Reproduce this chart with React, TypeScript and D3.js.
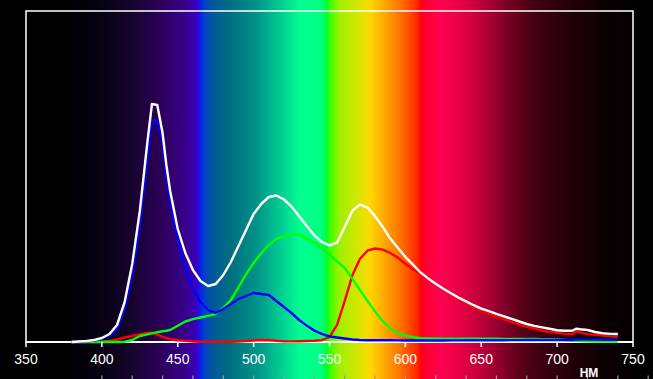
import React from "react";
import * as d3 from "d3";

const wavelengths = [380,385,390,395,400,405,410,415,420,425,430,433,436.5,440,442.5,445,450,455,460,465,470,475,480,485,490,495,500,505,510,515,520,525,530,535,540,545,550,555,560,565,570,575,580,585,590,595,600,605,610,615,620,625,630,635,640,645,650,655,660,665,670,675,680,685,690,695,700,705,710,712.5,715,720,725,730,735,740];

const whiteValues = [0,0.5,1,2,4,8,17,40,78,131,200,238,237,209,177,151,113,89,72,61,56,58,67,80,96,112,128,138,145,146.5,142.5,135.4,125.8,116,106.6,100,96.6,99.4,115,131,137.7,134.4,125.9,115.3,103.4,94.3,85.2,77.4,69.5,63.6,58.3,53.3,48.8,44.4,40.6,36.8,33.3,30.8,28.2,25.6,23.1,20.5,18,16.1,14.6,13.2,11.8,11.2,11.2,13.3,12.7,12,10,8.8,8.1,8];

const blueValues = [0,0.3,0.7,1.5,3,6,13,33,67,116,183,222,221,200,165,142,104,73,53,40,32,29,33,38,43,46,49,48,47,41,35,29,22,16.4,11.4,8.1,5.5,4.5,3.5,2.5,2,1.8,1.8,1.8,1.7,1.6,1.5,1.5,1.5,1.5,1.5,1.5,1.6,1.6,1.7,1.7,1.8,1.8,1.8,1.8,1.9,1.9,2,2,2,2,2,2,2,2.6,2.5,2.4,2.6,2.3,2.2,2.2];

const greenValues = [0,0,0,0,0,0,0,0.3,2,6,7.6,8.6,9.8,10.7,11.3,12,16.3,20.5,22.8,24.5,26.1,27.8,34.1,41.8,54.5,67.7,79,88.7,97,103.1,105.8,107.9,107.3,103.6,99.5,93.4,87.4,80.7,74,63.4,52.3,41,30.6,21.1,13.5,9,6.7,4.8,3.8,3.5,3.5,3.4,3.4,3.3,3.3,3.3,3.2,3.2,3.2,3.1,3.1,3,3,3,2.9,2.8,2.5,2,1.5,1.2,1,0.7,0.5,0.5,0.5,0.5];

const redValues = [0,0,0,0,0.3,1,2.5,4.5,6,7.7,9,9.3,7.3,5.2,3.8,2.8,1.8,1.1,0.5,0.3,0.3,0.3,0.3,0.3,0.5,1,1.5,2,1.8,1.2,0.8,0.6,0.8,1,1.2,1.8,5,17.2,40.8,66.5,83,91.3,93.5,92.4,89,84.4,78.3,72.6,68.3,63,58,52.8,47.6,42.7,38.7,34.7,30.9,28.1,25.4,22.6,19.9,17.4,15.4,13.5,11.5,10,9.2,8.4,7.8,10.2,9.6,7.9,7.3,6.4,5.7,5.3];

const axisTicks = [350, 400, 450, 500, 550, 600, 650, 700, 750];
const minorTicks = [400,420,440,460,480,500,520,540,560,580,600,620,640,660,680,700,720,740,760];
const unitLabel = "НМ";

const series = [
  { name: "red", values: redValues, color: "#ff0000" },
  { name: "green", values: greenValues, color: "#00ff00" },
  { name: "blue", values: blueValues, color: "#0000ff" },
  { name: "white", values: whiteValues, color: "#ffffff" },
];

const W = 653;
const H = 379;

const spectrumStops: [number, string][] = [
  [0, "#000000"], [60, "#000000"], [100, "#060212"], [130, "#14042a"], [160, "#2b0058"],
  [185, "#38008c"], [196, "#3c00b8"], [199, "#1c10e8"], [202, "#0030e0"], [206, "#0048b8"], [214, "#005a98"],
  [232, "#00707f"], [258, "#00968a"], [282, "#00d090"], [300, "#00ff90"], [321, "#00ff80"],
  [327, "#00ff30"], [330, "#40ff00"], [340, "#a0f000"], [355, "#cce800"], [370, "#ffd800"],
  [387, "#ffa000"], [403, "#ff6800"], [417, "#ff2800"], [421, "#ff0010"], [425, "#ff0030"],
  [440, "#ff0050"], [455, "#f00048"], [472, "#d00040"], [490, "#a80032"], [505, "#800028"],
  [522, "#580018"], [545, "#380010"], [575, "#200008"], [605, "#0c0003"], [635, "#030001"], [653, "#000000"],
];

export default function App() {
  const x = d3.scaleLinear().domain([350, 750]).range([26, 633]);
  const y = d3.scaleLinear().domain([0, 331]).range([342, 11]);

  const line = (vals: number[]) =>
    d3.line<number>()
      .x((_, i) => x(wavelengths[i]))
      .y((d) => y(d))
      .curve(d3.curveLinear)(vals) || "";

  return (
    <svg width={W} height={H} style={{ position: "absolute", left: 0, top: 0, display: "block" }}>
      <defs>
        <linearGradient id="spec" x1="0" x2={W} y1="0" y2="0" gradientUnits="userSpaceOnUse">
          {spectrumStops.map(([px, c], i) => (
            <stop key={i} offset={px / W} stopColor={c} />
          ))}
        </linearGradient>
      </defs>
      <rect x={0} y={0} width={W} height={H} fill="url(#spec)" />
      <rect x={26} y={11} width={607} height={331} fill="none" stroke="#ffffff" strokeWidth={1.5} />
      <line x1={26} x2={633} y1={342} y2={342} stroke="#ffffff" strokeWidth={2} />
      {series.map((s) => (
        <path key={s.name} d={line(s.values)} fill="none" stroke={s.color} strokeWidth={2.4} strokeLinejoin="round" />
      ))}
      {axisTicks.map((t) => (
        <g key={t}>
          <line x1={x(t)} x2={x(t)} y1={342} y2={347} stroke="#ffffff" strokeWidth={1.5} />
          <text x={x(t)} y={363.5} fill="#ffffff" fontSize={14} textAnchor="middle"
            fontFamily="'Liberation Sans', Arial, sans-serif">{t}</text>
        </g>
      ))}
      {minorTicks.map((t) => (
        <line key={"m" + t} x1={x(t)} x2={x(t)} y1={375.5} y2={379} stroke="#9a9a9a" strokeWidth={1.2} />
      ))}
      <text x={589} y={377} fill="#ffffff" fontSize={12} fontWeight="bold" textAnchor="middle"
        fontFamily="'Liberation Sans', Arial, sans-serif">{unitLabel}</text>
    </svg>
  );
}
